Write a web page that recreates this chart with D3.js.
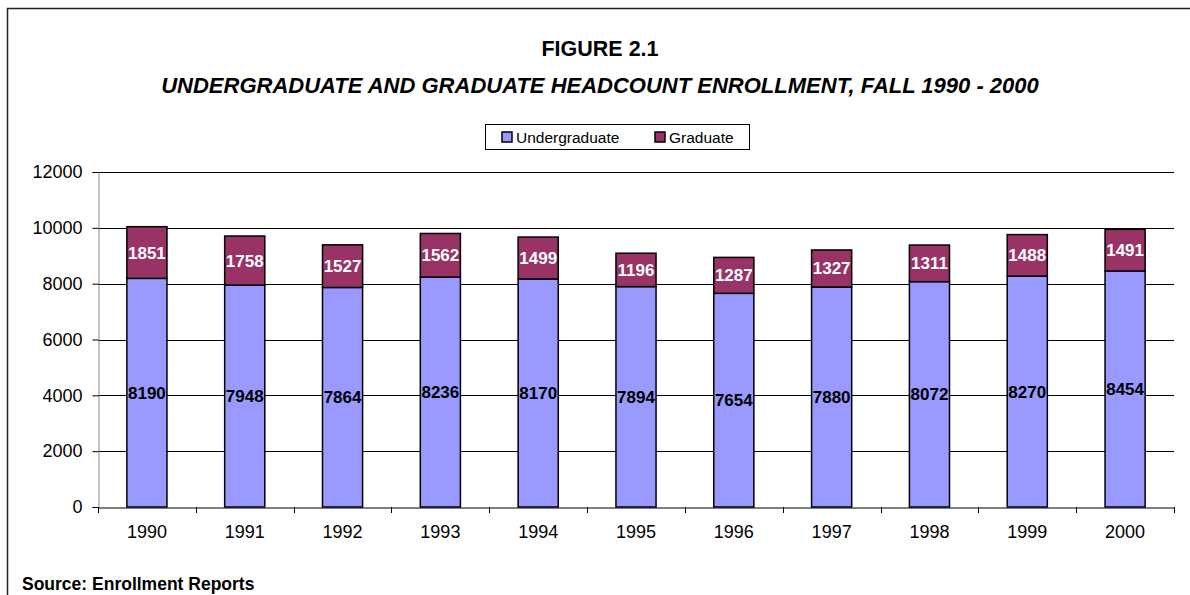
<!DOCTYPE html>
<html>
<head>
<meta charset="utf-8">
<script src="https://cdn.jsdelivr.net/npm/d3@7"></script>
<style>
  body { margin: 0; background: #fff; }
  text { font-family: "Liberation Sans", Arial, sans-serif; }
</style>
</head>
<body>
<div id="chart"></div>
<script>
// Chart data
const years = ["1990", "1991", "1992", "1993", "1994", "1995", "1996", "1997", "1998", "1999", "2000"];
const undergraduate = [8190, 7948, 7864, 8236, 8170, 7894, 7654, 7880, 8072, 8270, 8454];
const graduate = [1851, 1758, 1527, 1562, 1499, 1196, 1287, 1327, 1311, 1488, 1491];
const seriesNames = ["Undergraduate", "Graduate"];
const yTicks = [0, 2000, 4000, 6000, 8000, 10000, 12000];

const width = 1190;
const height = 595;
const colors = { Undergraduate: "#9999ff", Graduate: "#993366" };

const svg = d3.select("#chart")
    .append("svg")
    .attr("width", width)
    .attr("height", height);

// Outer frame
svg.append("rect")
    .attr("x", 7.5).attr("y", 8.5)
    .attr("width", width).attr("height", height)
    .attr("fill", "none")
    .attr("stroke", "#222")
    .attr("stroke-width", 1.5);

// Titles
svg.append("text")
    .attr("x", 600).attr("y", 56)
    .attr("text-anchor", "middle")
    .style("font-size", "21.5px").style("font-weight", "bold")
    .text("FIGURE 2.1");
svg.append("text")
    .attr("x", 600).attr("y", 93)
    .attr("text-anchor", "middle")
    .style("font-size", "22px").style("font-weight", "bold").style("font-style", "italic")
    .text("UNDERGRADUATE AND GRADUATE HEADCOUNT ENROLLMENT, FALL 1990 - 2000");

// Scales
const x = d3.scaleBand().domain(years).range([98, 1174]).paddingInner(0.59).paddingOuter(0.295);
const xb = d3.scaleBand().domain(years).range([98, 1174]);
const y = d3.scaleLinear().domain([0, 12000]).range([507, 172]);

// Gridlines
svg.append("g")
    .selectAll("line")
    .data(yTicks.filter(d => d > 0))
    .enter()
    .append("line")
    .attr("x1", 98).attr("x2", 1174)
    .attr("y1", d => Math.round(y(d)) + 0.5)
    .attr("y2", d => Math.round(y(d)) + 0.5)
    .attr("stroke", "#000")
    .attr("stroke-width", 1);

// Y axis
const yAxis = svg.append("g")
    .attr("transform", "translate(98.5,0)")
    .call(d3.axisLeft(y).tickValues(yTicks).tickSize(6).tickPadding(10).tickFormat(d3.format("d")));
yAxis.select(".domain").attr("stroke", "#888");
yAxis.selectAll(".tick line").attr("stroke", "#000");
yAxis.selectAll("text").style("font-size", "18px").attr("fill", "#000");

// X axis
const xAxis = svg.append("g")
    .attr("transform", "translate(0,507.5)")
    .call(d3.axisBottom(xb).tickSize(0).tickPadding(18));
xAxis.select(".domain").attr("stroke", "#000");
xAxis.selectAll("text").style("font-size", "18px").attr("fill", "#000");
// boundary ticks between categories
svg.append("g")
    .selectAll("line")
    .data(years.map(d => xb(d)).concat([xb(years[years.length - 1]) + xb.bandwidth()]))
    .enter()
    .append("line")
    .attr("x1", d => Math.round(d) + 0.5).attr("x2", d => Math.round(d) + 0.5)
    .attr("y1", 507).attr("y2", 513)
    .attr("stroke", "#000");

// Stacked bars
const rows = years.map((yr, i) => ({ year: yr, Undergraduate: undergraduate[i], Graduate: graduate[i] }));
const stacked = d3.stack().keys(seriesNames)(rows);

const layers = svg.append("g")
    .selectAll("g")
    .data(stacked)
    .enter()
    .append("g")
    .attr("fill", d => colors[d.key]);

layers.selectAll("rect")
    .data(d => d)
    .enter()
    .append("rect")
    .attr("x", d => x(d.data.year))
    .attr("y", d => y(d[1]))
    .attr("width", x.bandwidth())
    .attr("height", d => y(d[0]) - y(d[1]))
    .attr("stroke", "#000")
    .attr("stroke-width", 1.5);

// Value labels
layers.selectAll("text")
    .data(d => d.map(v => ({ v: v, key: d.key })))
    .enter()
    .append("text")
    .attr("x", d => x(d.v.data.year) + x.bandwidth() / 2)
    .attr("y", d => y((d.v[0] + d.v[1]) / 2) + 6)
    .attr("text-anchor", "middle")
    .style("font-size", "17px").style("font-weight", "bold")
    .attr("fill", d => d.key === "Graduate" ? "#fff" : "#000")
    .text(d => d.v.data[d.key]);

// Legend
const legend = svg.append("g");
legend.append("rect")
    .attr("x", 485.5).attr("y", 124.5).attr("width", 264).attr("height", 25)
    .attr("fill", "#fff").attr("stroke", "#000").attr("stroke-width", 1);
const legendX = [502, 655];
seriesNames.forEach((name, i) => {
    legend.append("rect")
        .attr("x", legendX[i]).attr("y", 132).attr("width", 10).attr("height", 10)
        .attr("fill", colors[name]).attr("stroke", "#000").attr("stroke-width", 1.5);
    legend.append("text")
        .attr("x", legendX[i] + 14).attr("y", 143)
        .style("font-size", "15.5px")
        .text(name);
});

// Source note
svg.append("text")
    .attr("x", 22).attr("y", 590)
    .style("font-size", "17.5px").style("font-weight", "bold")
    .text("Source: Enrollment Reports");
</script>
</body>
</html>
